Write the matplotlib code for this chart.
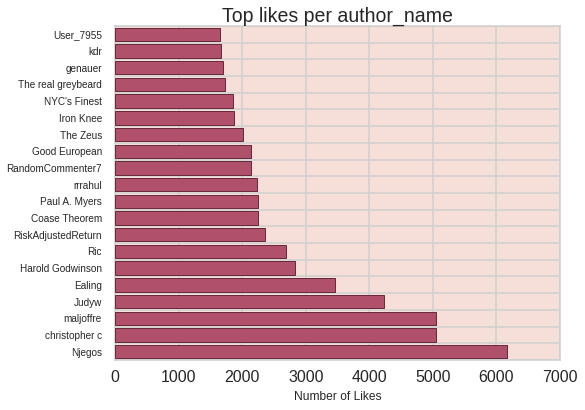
import matplotlib
matplotlib.use("Agg")
import matplotlib.pyplot as plt
import numpy as np

authors = ["User_7955", "kdr", "genauer", "The real greybeard", "NYC's Finest",
           "Iron Knee", "The Zeus", "Good European", "RandomCommenter7", "rrrahul",
           "Paul A. Myers", "Coase Theorem", "RiskAdjustedReturn", "Ric",
           "Harold Godwinson", "Ealing", "Judyw", "maljoffre", "christopher c", "Njegos"]
likes = [1650, 1667, 1699, 1730, 1851, 1872, 2013, 2134, 2140, 2229,
         2250, 2250, 2360, 2690, 2832, 3461, 4232, 5050, 5050, 6166]
xticks = [0, 1000, 2000, 3000, 4000, 5000, 6000, 7000]

plt.rcParams['font.family'] = ['Liberation Sans', 'DejaVu Sans']

fig = plt.figure(figsize=(585 / 72, 410 / 72), dpi=72)
ax = fig.add_axes([115 / 585, 1 - 360 / 410, 445 / 585, 334 / 410])
ax.set_facecolor('#f5dfd8')

pos = np.arange(len(authors))
ax.barh(pos, likes, height=0.8, color='#b0506a', edgecolor='#6a2a3e',
        linewidth=1.0, zorder=3)

ax.set_xlim(0, 7000)
ax.set_ylim(len(authors) - 0.5, -0.5)
ax.set_xticks(xticks)
ax.set_xticklabels([str(t) for t in xticks], fontsize=16, color='#262626')
ax.set_yticks(pos)
ax.set_yticklabels(authors, fontsize=10, color='#262626')
ax.set_yticks(np.arange(len(authors) + 1) - 0.5, minor=True)

ax.grid(True, axis='x', which='major', color='#cfcfcf', linewidth=1.5, zorder=1)
ax.grid(True, axis='y', which='minor', color='#cfcfcf', linewidth=1.5, zorder=1)
ax.grid(False, axis='y', which='major')
ax.set_axisbelow(True)
ax.tick_params(which='both', length=0)
ax.tick_params(axis='x', pad=10)
ax.tick_params(axis='y', pad=13)

for s in ax.spines.values():
    s.set_color('#cfcfcf')
    s.set_linewidth(1.5)

ax.set_title("Top likes per author_name", fontsize=19.5, color='#262626', pad=4)
ax.set_xlabel("Number of Likes", fontsize=12, color='#262626', labelpad=6)

fig.savefig("out.png", dpi=72, facecolor='white')
